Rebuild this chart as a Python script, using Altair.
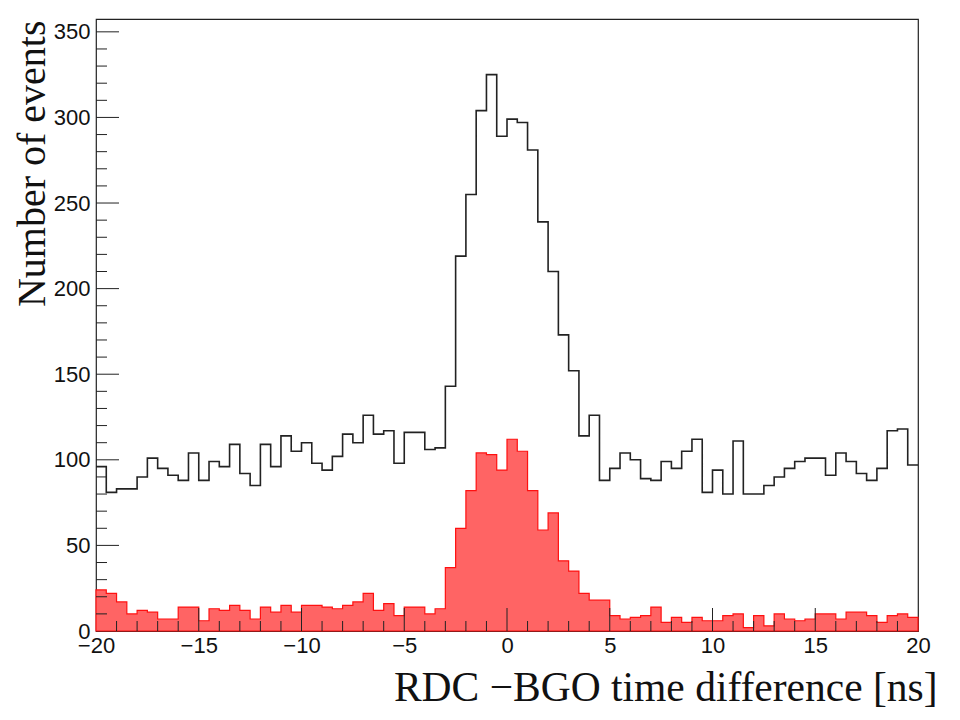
import altair as alt
import pandas as pd

# 80 bins of 0.5 ns from -20 to 20 ns
bin_width = 0.5
x_start = -20.0

all_events = [96, 81, 83, 83, 90, 101, 95, 91, 88, 104,
              88, 99, 96, 109, 92, 85, 109, 96, 114, 105,
              110, 98, 94, 102, 115, 110, 126, 115, 117, 98,
              116, 116, 106, 107, 143, 219, 255, 304, 325, 289,
              299, 297, 281, 239, 210, 173, 152, 114, 126, 88,
              95, 104, 100, 89, 88, 99, 95, 105, 112, 81,
              94, 80, 111, 80, 80, 85, 90, 95, 99, 101,
              101, 91, 104, 99, 92, 88, 95, 117, 118, 97]

selected = [24, 22, 17, 10, 12, 11, 7, 7, 14, 14,
            6, 13, 12, 15, 12, 7, 14, 11, 15, 11,
            15, 15, 14, 13, 15, 17, 22, 12, 16, 9,
            14, 14, 10, 13, 37, 60, 82, 104, 103, 94,
            112, 105, 82, 59, 69, 41, 35, 22, 18, 18,
            9, 7, 8, 9, 14, 5, 8, 5, 8, 6,
            6, 9, 10, 2, 9, 3, 10, 7, 6, 7,
            10, 10, 7, 11, 11, 9, 5, 9, 10, 8]

x_major = [-15, -10, -5, 0, 5, 10, 15]
x_minor = [v for v in range(-19, 20) if v % 5 != 0]
y_major = [50, 100, 150, 200, 250, 300, 350]
y_minor = [v for v in range(10, 360, 10) if v % 50 != 0]

x_title = "RDC \u2212BGO time difference [ns]"
y_title = "Number of events"

W, H = 822, 612

edges = [x_start + bin_width * i for i in range(len(all_events) + 1)]
df = pd.DataFrame({
    "x": edges,
    "all": all_events + [all_events[-1]],
    "sel": selected + [selected[-1]],
})

xscale = alt.Scale(domain=[-20, 20], nice=False, zero=False)
yscale = alt.Scale(domain=[0, 357.5], nice=False, zero=True)

xaxis = alt.Axis(values=[-20, -15, -10, -5, 0, 5, 10, 15, 20], ticks=False, domain=False,
                 grid=False, labelFlush=False, labelOverlap=False,
                 labelFont="Liberation Sans", labelFontSize=22, labelColor="#111",
                 labelPadding=4,
                 titleFont="Liberation Serif", titleFontSize=41.5, titleFontWeight="normal",
                 titleColor="#111", titleX=841, titleY=69, titleAlign="right",
                 titleBaseline="alphabetic")
yaxis = alt.Axis(values=[0, 50, 100, 150, 200, 250, 300, 350], ticks=False, domain=False,
                 grid=False, labelFlush=False, labelOverlap=False,
                 labelFont="Liberation Sans", labelFontSize=22, labelColor="#111",
                 labelPadding=6,
                 titleFont="Liberation Serif", titleFontSize=40, titleFontWeight="normal",
                 titleColor="#111", titleX=-52, titleY=1, titleAlign="right",
                 titleAngle=270, titleBaseline="alphabetic")

area = alt.Chart(df).mark_area(interpolate="step-after", fill="#ff6464",
                               stroke="#ff1010", strokeWidth=1.2).encode(
    x=alt.X("x:Q", scale=xscale, axis=xaxis, title=x_title),
    y=alt.Y("sel:Q", scale=yscale, axis=yaxis, title=y_title),
)

line = alt.Chart(df).mark_line(interpolate="step-after", color="#222",
                               strokeWidth=1.6).encode(
    x=alt.X("x:Q", scale=xscale),
    y=alt.Y("all:Q", scale=yscale),
)

tick_color = "#222"
xmaj = alt.Chart(pd.DataFrame({"t": x_major})).mark_rule(color=tick_color, strokeWidth=1).encode(
    x=alt.X("t:Q", scale=xscale), y=alt.value(H), y2=alt.value(H - 23))
xmin = alt.Chart(pd.DataFrame({"t": x_minor})).mark_rule(color=tick_color, strokeWidth=1).encode(
    x=alt.X("t:Q", scale=xscale), y=alt.value(H), y2=alt.value(H - 10))
ymaj = alt.Chart(pd.DataFrame({"t": y_major})).mark_rule(color=tick_color, strokeWidth=1).encode(
    y=alt.Y("t:Q", scale=yscale), x=alt.value(0), x2=alt.value(23))
ymin = alt.Chart(pd.DataFrame({"t": y_minor})).mark_rule(color=tick_color, strokeWidth=1).encode(
    y=alt.Y("t:Q", scale=yscale), x=alt.value(0), x2=alt.value(11))

chart = alt.layer(area, line, xmaj, xmin, ymaj, ymin).properties(
    width=W, height=H,
    autosize=alt.AutoSizeParams(type="none"),
    padding={"left": 88, "top": 11, "right": 30, "bottom": 85},
    background="white",
).configure_view(stroke="#222", strokeWidth=1.2)

chart.save("out.html", embed_options={"renderer": "svg", "actions": False})
